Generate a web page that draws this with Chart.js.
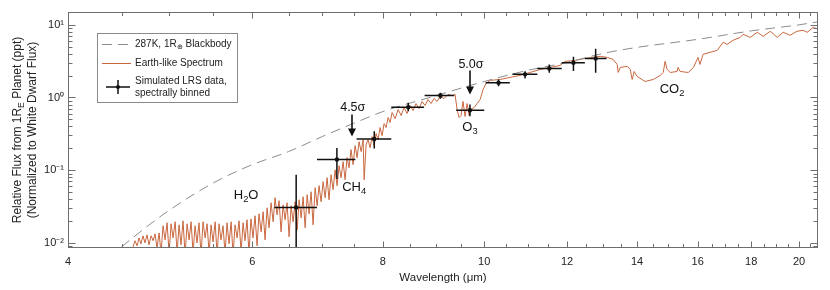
<!DOCTYPE html>
<html><head><meta charset="utf-8">
<script src="https://cdn.jsdelivr.net/npm/chart.js@4/dist/chart.umd.min.js"></script>
<style>html,body{margin:0;padding:0;background:#fff}#wrap{width:830px;height:290px}</style>
</head><body><div id="wrap"><canvas id="c" width="830" height="290"></canvas></div>
<script>
// ---------- data ----------
const spectrumWavelength = [
4.616,4.636,4.657,4.677,4.697,4.718,4.739,4.760,4.781,4.803,
4.824,4.845,4.866,4.888,4.909,4.931,4.953,4.975,4.997,5.019,
5.041,5.064,5.086,5.108,5.130,5.153,5.176,5.199,5.222,5.245,
5.268,5.291,5.314,5.337,5.361,5.385,5.409,5.433,5.457,5.481,
5.505,5.530,5.554,5.578,5.602,5.627,5.652,5.677,5.702,5.728,
5.753,5.778,5.804,5.829,5.855,5.881,5.906,5.932,5.958,5.984,
6.011,6.038,6.065,6.091,6.119,6.146,6.173,6.200,6.227,6.255,
6.283,6.310,6.338,6.366,6.394,6.423,6.451,6.479,6.508,6.537,
6.566,6.595,6.624,6.653,6.683,6.712,6.742,6.772,6.801,6.831,
6.861,6.892,6.922,6.952,6.983,7.014,7.045,7.076,7.106,7.138,
7.170,7.202,7.233,7.265,7.297,7.329,7.362,7.394,7.426,7.459,
7.492,7.526,7.559,7.592,7.626,7.660,7.677,7.710,7.744,7.778,
7.813,7.847,7.882,7.916,7.951,7.986,8.022,8.057,8.093,8.128,
8.164,8.219,8.274,8.328,8.383,8.438,8.493,8.550,8.606,8.663,
8.721,8.779,8.836,8.895,8.954,9.014,9.073,9.154,9.235,9.317,
9.378,9.420,9.461,9.502,9.544,9.587,9.630,9.672,9.715,9.780,
9.845,9.910,9.976,10.04,10.13,10.36,10.58,10.82,11.06,11.31,
11.56,11.82,11.95,12.22,12.49,12.91,13.11,13.28,13.40,13.43,
13.49,13.70,13.79,13.85,13.91,14.00,14.25,14.51,14.73,14.83,
14.89,14.96,15.06,15.29,15.32,15.39,15.67,15.85,16.01,16.08,
16.19,16.44,16.70,16.92,17.07,17.29,17.57,17.68,17.96,18.24,
18.48,18.77,19.06,19.31,19.61,19.91,20.18,20.36,20.63,20.86];
const spectrumFlux = [
0.0088,0.0107,0.0091,0.0117,0.0097,0.0125,0.0100,0.0129,0.0094,0.0125,
0.0107,0.0133,0.0085,0.0137,0.0072,0.0172,0.0110,0.0189,0.0072,0.0183,
0.0117,0.0195,0.0072,0.0177,0.0094,0.0201,0.0068,0.0183,0.0110,0.0195,
0.0072,0.0172,0.0100,0.0189,0.0068,0.0195,0.0117,0.0183,0.0072,0.0177,
0.0103,0.0195,0.0068,0.0183,0.0110,0.0172,0.0072,0.0189,0.0097,0.0195,
0.0068,0.0177,0.0117,0.0201,0.0075,0.0189,0.0107,0.0208,0.0072,0.0214,
0.0117,0.0236,0.0091,0.0251,0.0142,0.0268,0.0110,0.0304,0.0161,0.0356,
0.0195,0.0418,0.0243,0.0380,0.0142,0.0334,0.0208,0.0356,0.0121,0.0324,
0.0195,0.0368,0.0151,0.0392,0.0221,0.0431,0.0161,0.0460,0.0251,0.0505,
0.0177,0.0574,0.0324,0.0611,0.0368,0.0694,0.0418,0.0788,0.0392,0.0867,
0.0539,0.101,0.0611,0.115,0.0788,0.131,0.074,0.149,0.108,0.192,
0.119,0.218,0.149,0.247,0.180,0.263,0.074,0.225,0.263,0.204,
0.290,0.218,0.319,0.263,0.386,0.299,0.438,0.386,0.530,0.452,
0.621,0.513,0.683,0.565,0.728,0.602,0.776,0.662,0.826,0.705,
0.881,0.776,0.938,0.826,0.969,0.881,1.032,0.969,1.10,1.066,
1.10,0.683,0.530,0.565,0.881,0.547,0.826,0.565,0.683,0.728,
0.826,0.938,1.29,1.56,1.72,1.77,1.89,2.01,2.21,2.43,
2.59,2.76,3.14,3.24,3.45,3.68,3.56,3.34,2.85,2.21,
2.59,2.68,2.43,1.77,2.28,1.95,1.66,1.77,2.01,2.21,
3.14,2.43,2.21,2.28,2.59,2.28,2.21,2.59,3.56,2.85,
3.92,4.18,4.45,5.74,5.38,6.11,6.72,7.40,6.72,7.88,
6.94,8.14,6.72,7.88,7.17,8.14,8.40,7.88,9.24,8.67];

const blackbodyWavelength = [4.5,4.75,5,5.5,6,6.5,7,7.5,8,9,10,11,12,13,14,16,18,20,20.85];
const blackbodyFlux = [0.0088,0.0164,0.0282,0.066,0.119,0.18,0.29,0.44,0.64,1.065,1.66,2.36,3.04,4.05,4.89,6.31,8.25,10.0,11.0];

const binCenter = [6.61,7.23,7.85,8.46,9.08,9.69,10.32,10.94,11.54,12.17,12.78];
const binLow    = [6.30,6.92,7.55,8.15,8.77,9.40,10.03,10.64,11.24,11.86,12.48];
const binHigh   = [6.92,7.53,8.15,8.76,9.36,10.00,10.58,11.24,11.86,12.48,13.09];
const binFlux   = [0.0307,0.140,0.269,0.735,1.066,0.668,1.595,2.08,2.51,3.01,3.45];
const fluxLow   = [0.001,0.0756,0.198,0.647,0.96,0.552,1.43,1.83,2.19,2.31,2.19];
const fluxHigh  = [0.0867,0.2023,0.343,0.845,1.16,0.80,1.77,2.30,2.85,3.64,4.70];

const xTickValues = [4,6,8,10,12,14,16,18,20];
const xMinorTicks = [4.5,5,5.5,6.5,7,7.5,8.5,9,9.5,10.5,11,11.5,12.5,13,13.5,14.5,15,15.5,16.5,17,17.5,18.5,19,19.5,20.5];
const yTickValues = [0.01,0.1,1,10];
const yTickLabels = ['10\u207B\u00B2','10\u207B\u00B9','10\u2070','10\u00B9'];
const yMinorTicks = [0.009,0.02,0.03,0.04,0.05,0.06,0.07,0.08,0.09,0.2,0.3,0.4,0.5,0.6,0.7,0.8,0.9,2,3,4,5,6,7,8,9];

// annotations: [label segments, wavelength, flux]
const annotations = [
  [[['H',0],['2',1],['O',0]], 5.92, 0.0445],
  [[['CH',0],['4',1]], 7.51, 0.0574],
  [[['O',0],['3',1]], 9.69, 0.386],
  [[['CO',0],['2',1]], 15.12, 1.29]
];
const arrowLabels = ['4.5\u03C3','5.0\u03C3'];
const arrowX = [7.47, 9.69];
const arrowTextY = [0.728, 2.85];
const arrowTop = [0.583, 2.36];
const arrowTip = [0.290, 1.10];

// ---------- drawing ----------
const FONT = '"Liberation Sans", Arial, Helvetica, sans-serif';
const SPEC_COLOR = '#c9673f';
const BB_COLOR = '#8c8c8c';

function richText(ctx, segs, x, y, size, align) {
  const small = size * 0.72;
  let w = 0;
  segs.forEach(([t, m]) => { ctx.font = (m ? small : size) + 'px ' + FONT; w += ctx.measureText(t).width; });
  let cx = align === 'center' ? x - w / 2 : x;
  ctx.textAlign = 'left';
  ctx.textBaseline = 'middle';
  segs.forEach(([t, m]) => {
    ctx.font = (m ? small : size) + 'px ' + FONT;
    ctx.fillText(t, cx, y + (m ? size * 0.32 : 0));
    cx += ctx.measureText(t).width;
  });
}

const extras = {
  id: 'extras',
  afterDatasetsDraw(chart) {
    const { ctx, chartArea: a, scales: { x, y } } = chart;
    // error bars
    ctx.save();
    ctx.beginPath(); ctx.rect(a.left, a.top, a.right - a.left, a.bottom - a.top); ctx.clip();
    ctx.strokeStyle = '#111'; ctx.lineWidth = 1.5;
    for (let i = 0; i < binCenter.length; i++) {
      const cx = x.getPixelForValue(binCenter[i]), cy = y.getPixelForValue(binFlux[i]);
      ctx.beginPath();
      ctx.moveTo(x.getPixelForValue(binLow[i]), cy); ctx.lineTo(x.getPixelForValue(binHigh[i]), cy);
      ctx.moveTo(cx, y.getPixelForValue(fluxHigh[i])); ctx.lineTo(cx, y.getPixelForValue(fluxLow[i]));
      ctx.stroke();
    }
    ctx.restore();

    // frame + inward ticks
    ctx.save();
    ctx.strokeStyle = '#6e6e6e'; ctx.lineWidth = 1;
    const L = Math.round(a.left) + 0.5, R = Math.round(a.right) - 0.5, T = Math.round(a.top) + 0.5, B = Math.round(a.bottom) - 0.5;
    ctx.strokeRect(L, T, R - L, B - T);
    ctx.beginPath();
    const xt = (v, len) => { const p = Math.round(x.getPixelForValue(v)) + 0.5; ctx.moveTo(p, B); ctx.lineTo(p, B - len); ctx.moveTo(p, T); ctx.lineTo(p, T + len); };
    const yt = (v, len) => { const p = Math.round(y.getPixelForValue(v)) + 0.5; ctx.moveTo(L, p); ctx.lineTo(L + len, p); ctx.moveTo(R, p); ctx.lineTo(R - len, p); };
    xTickValues.forEach(v => xt(v, 6));
    xMinorTicks.forEach(v => xt(v, 3.5));
    yTickValues.forEach(v => yt(v, 7));
    yMinorTicks.forEach(v => yt(v, 4));
    ctx.stroke();
    ctx.restore();

    // annotations
    ctx.save();
    ctx.fillStyle = '#111';
    annotations.forEach(([segs, wx, fy]) => richText(ctx, segs, x.getPixelForValue(wx), y.getPixelForValue(fy), 13, 'center'));
    for (let i = 0; i < arrowLabels.length; i++) {
      const px = Math.round(x.getPixelForValue(arrowX[i]));
      richText(ctx, [[arrowLabels[i], 0]], x.getPixelForValue(arrowX[i]) + 1, y.getPixelForValue(arrowTextY[i]), 12.5, 'center');
      const y1 = y.getPixelForValue(arrowTop[i]), y2 = y.getPixelForValue(arrowTip[i]);
      ctx.strokeStyle = '#111'; ctx.lineWidth = 1.6;
      ctx.beginPath(); ctx.moveTo(px, y1); ctx.lineTo(px, y2 - 7); ctx.stroke();
      ctx.beginPath(); ctx.moveTo(px - 4, y2 - 8); ctx.lineTo(px + 4, y2 - 8); ctx.lineTo(px, y2); ctx.closePath(); ctx.fill();
    }
    ctx.restore();

    // legend box
    ctx.save();
    ctx.fillStyle = '#fff'; ctx.strokeStyle = '#8a8a8a'; ctx.lineWidth = 1;
    ctx.fillRect(97.5, 33.5, 140, 69); ctx.strokeRect(97.5, 33.5, 140, 69);
    ctx.strokeStyle = BB_COLOR; ctx.setLineDash([10, 6]);
    ctx.beginPath(); ctx.moveTo(102, 44.5); ctx.lineTo(131, 44.5); ctx.stroke();
    ctx.setLineDash([]);
    ctx.strokeStyle = SPEC_COLOR;
    ctx.beginPath(); ctx.moveTo(102, 63.5); ctx.lineTo(131, 63.5); ctx.stroke();
    ctx.strokeStyle = '#111'; ctx.lineWidth = 1.5;
    ctx.beginPath(); ctx.moveTo(106, 87); ctx.lineTo(130, 87); ctx.moveTo(118, 80); ctx.lineTo(118, 94); ctx.stroke();
    ctx.fillStyle = '#111'; ctx.beginPath(); ctx.arc(118, 87, 2, 0, Math.PI * 2); ctx.fill();
    ctx.fillStyle = '#222';
    richText(ctx, [['287K, 1R', 0], ['\u2295', 1], [' Blackbody', 0]], 135, 44, 10, 'left');
    richText(ctx, [['Earth-like Spectrum', 0]], 135, 63.5, 10, 'left');
    richText(ctx, [['Simulated LRS data,', 0]], 135, 81.5, 10, 'left');
    richText(ctx, [['spectrally binned', 0]], 135, 93, 10, 'left');
    ctx.restore();

    // y axis title
    ctx.save();
    ctx.fillStyle = '#222';
    ctx.translate(18, (a.top + a.bottom) / 2); ctx.rotate(-Math.PI / 2);
    richText(ctx, [['Relative Flux from 1R', 0], ['E', 1], [' Planet (ppt)', 0]], 0, 0, 12, 'center');
    ctx.restore();
    ctx.save();
    ctx.fillStyle = '#222';
    ctx.translate(33, (a.top + a.bottom) / 2); ctx.rotate(-Math.PI / 2);
    richText(ctx, [['(Normalized to White Dwarf Flux)', 0]], 0, 0, 12, 'center');
    ctx.restore();
  }
};

const ctx = document.getElementById('c').getContext('2d');
new Chart(ctx, {
  type: 'scatter',
  data: {
    datasets: [
      { label: 'Earth-like Spectrum', data: spectrumWavelength.map((v, i) => ({ x: v, y: spectrumFlux[i] })),
        showLine: true, borderColor: SPEC_COLOR, borderWidth: 1, pointRadius: 0, order: 2 },
      { label: '287K, 1R Blackbody', data: blackbodyWavelength.map((v, i) => ({ x: v, y: blackbodyFlux[i] })),
        showLine: true, borderColor: BB_COLOR, borderWidth: 1, borderDash: [10, 6], pointRadius: 0,
        cubicInterpolationMode: 'monotone', order: 1 },
      { label: 'Simulated LRS data', data: binCenter.map((v, i) => ({ x: v, y: binFlux[i] })),
        showLine: false, pointRadius: 2.2, pointBackgroundColor: '#111', pointBorderWidth: 0, order: 0 }
    ]
  },
  options: {
    responsive: false, animation: false, devicePixelRatio: 1,
    layout: { padding: { top: 12, right: 12, left: 0, bottom: 0 } },
    plugins: { legend: { display: false }, tooltip: { enabled: false } },
    scales: {
      x: {
        type: 'logarithmic', min: 4, max: 20.85,
        afterBuildTicks: s => { s.ticks = xTickValues.map(v => ({ value: v })); },
        afterFit: s => { s.height = 42; },
        grid: { display: false, drawTicks: false }, border: { display: false },
        ticks: { callback: v => String(v), font: { family: FONT, size: 11 }, color: '#222', padding: 7, maxRotation: 0, autoSkip: false },
        title: { display: true, text: 'Wavelength (\u03BCm)', font: { family: FONT, size: 11.5 }, color: '#222', padding: { top: 0, bottom: 5 } }
      },
      y: {
        type: 'logarithmic', min: 0.0085, max: 15,
        afterBuildTicks: s => { s.ticks = yTickValues.map(v => ({ value: v })); },
        afterFit: s => { s.width = 68; },
        grid: { display: false, drawTicks: false }, border: { display: false },
        ticks: { callback: (v, i) => yTickLabels[i], font: { family: FONT, size: 11 }, color: '#222', padding: 4, autoSkip: false }
      }
    }
  },
  plugins: [extras]
});
</script>
</body></html>
